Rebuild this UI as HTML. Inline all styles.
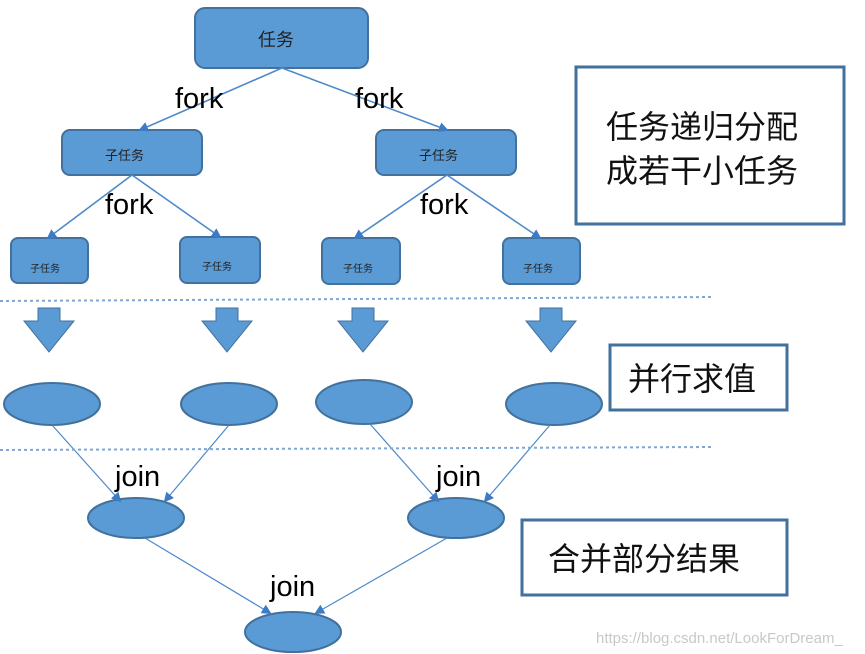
<!DOCTYPE html>
<html><head><meta charset="utf-8"><style>
body{margin:0;background:#fff;}
svg{display:block}
text{font-family:"Liberation Sans","Noto Sans CJK SC",sans-serif;}
</style></head><body>
<svg width="865" height="654" viewBox="0 0 865 654" xmlns="http://www.w3.org/2000/svg">
<defs>
<marker id="a" markerWidth="10" markerHeight="10" refX="8" refY="5" orient="auto" markerUnits="userSpaceOnUse">
<path d="M0,0 L10,5 L0,10 z" fill="#3d7cc4"/></marker>
</defs>
<g fill="#5b9bd5" stroke="#41719c" stroke-width="2">
<rect x="195" y="8" width="173" height="60" rx="10"/>
<rect x="62" y="130" width="140" height="45" rx="8"/>
<rect x="376" y="130" width="140" height="45" rx="8"/>
<rect x="11" y="238" width="77" height="45" rx="7"/>
<rect x="180" y="237" width="80" height="46" rx="7"/>
<rect x="322" y="238" width="78" height="46" rx="7"/>
<rect x="503" y="238" width="77" height="46" rx="7"/>
<ellipse cx="52" cy="404" rx="48" ry="21"/>
<ellipse cx="229" cy="404" rx="48" ry="21"/>
<ellipse cx="364" cy="402" rx="48" ry="22"/>
<ellipse cx="554" cy="404" rx="48" ry="21"/>
<ellipse cx="136" cy="518" rx="48" ry="20"/>
<ellipse cx="456" cy="518" rx="48" ry="20"/>
<ellipse cx="293" cy="632" rx="48" ry="20"/>
</g>
<g fill="#5b9bd5" stroke="#41719c" stroke-width="1">
<path d="M38,308 h22 v13 h14 l-25,31 l-25,-31 h14 z"/>
<path d="M216,308 h22 v13 h14 l-25,31 l-25,-31 h14 z"/>
<path d="M352,308 h22 v13 h14 l-25,31 l-25,-31 h14 z"/>
<path d="M540,308 h22 v13 h14 l-25,31 l-25,-31 h14 z"/>
</g>
<g stroke="#4d8ac9" stroke-width="1.6" fill="none" marker-end="url(#a)">
<line x1="282" y1="68" x2="140" y2="130"/>
<line x1="282" y1="68" x2="447" y2="130"/>
<line x1="132" y1="175" x2="48" y2="238"/>
<line x1="132" y1="175" x2="220" y2="237"/>
<line x1="447" y1="175" x2="355" y2="238"/>
<line x1="447" y1="175" x2="540" y2="238"/>
</g>
<g stroke="#4d8ac9" stroke-width="1.2" fill="none" marker-end="url(#a)">
<line x1="52" y1="425" x2="120" y2="501"/>
<line x1="229" y1="425" x2="165" y2="501"/>
<line x1="370" y1="424" x2="438" y2="501"/>
<line x1="550" y1="425" x2="485" y2="501"/>
<line x1="145" y1="538" x2="270" y2="613"/>
<line x1="447" y1="538" x2="316" y2="613"/>
</g>
<g stroke="#7fa7d6" stroke-width="2" stroke-dasharray="3,3">
<line x1="0" y1="301" x2="712" y2="297"/>
<line x1="0" y1="450" x2="712" y2="447"/>
</g>
<g fill="none" stroke="#41719c" stroke-width="3">
<rect x="576" y="67" width="268" height="157"/>
<rect x="610" y="345" width="177" height="65"/>
<rect x="522" y="520" width="265" height="75"/>
</g>
<g fill="#222">
<text x="258" y="46" font-size="18">任务</text>
<text x="105" y="160" font-size="13">子任务</text>
<text x="419" y="160" font-size="13">子任务</text>
<text x="30" y="272" font-size="10">子任务</text>
<text x="202" y="270" font-size="10">子任务</text>
<text x="343" y="272" font-size="10">子任务</text>
<text x="523" y="272" font-size="10">子任务</text>
</g>
<g fill="#000" font-size="29">
<text x="175" y="108">fork</text>
<text x="355" y="108">fork</text>
<text x="105" y="214">fork</text>
<text x="420" y="214">fork</text>
<text x="115" y="486">join</text>
<text x="436" y="486">join</text>
<text x="270" y="596">join</text>
</g>
<g fill="#111" font-size="32">
<text x="606" y="138">任务递归分配</text>
<text x="606" y="182">成若干小任务</text>
<text x="628" y="390">并行求值</text>
<text x="548" y="570">合并部分结果</text>
</g>
<text x="596" y="643" font-size="15" fill="#c8c8c8">https://blog.csdn.net/LookForDream_</text>
</svg>
</body></html>
